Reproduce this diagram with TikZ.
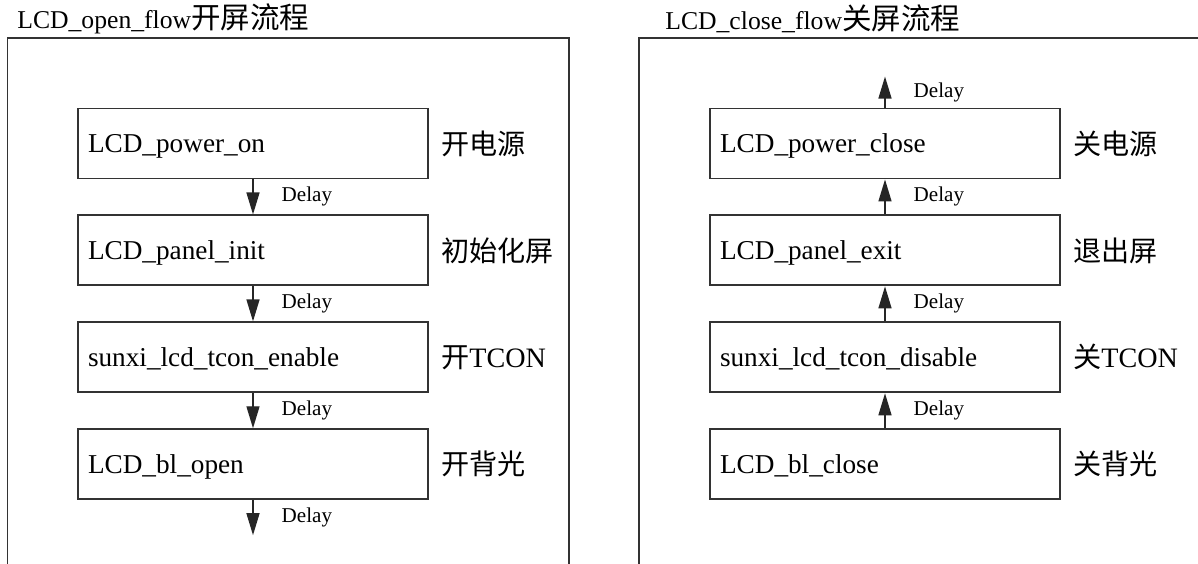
\documentclass[tikz,border=0pt]{standalone}
\usepackage{fontspec}
\setmainfont{Liberation Serif}
\newfontfamily\cjk{Noto Sans CJK SC}
\usetikzlibrary{positioning,arrows.meta}
\begin{document}
\begin{tikzpicture}[
        x=0.02cm, y=-0.02cm,
        stepn/.style={draw=black!80, line width=1.1pt, rectangle, minimum width=7cm, minimum height=1.4cm,
            text width=6.6cm, text depth=0pt, inner xsep=0.2cm, align=left, font=\fontsize{15.5pt}{18pt}\selectfont},
        sidetxt/.style={inner sep=0pt, anchor=west, font=\fontsize{16pt}{18pt}\selectfont},
        delaytxt/.style={inner sep=0pt, font=\fontsize{12pt}{14pt}\selectfont},
        titletxt/.style={inner sep=0pt, anchor=west, font=\fontsize{14.6pt}{17pt}\selectfont},
        framen/.style={draw=black!80, line width=1pt},
        flow/.style={draw=black!85, line width=0.8pt, -{Triangle[length=0.44cm, width=0.26cm]}},
        node distance=0.7cm,
    ]
    \useasboundingbox (0,0) rectangle (1198,564);
    % frames and titles
    \draw[framen] (7.5,564) |- (569,38) -- (569,564);
    \draw[framen] (639,564) |- (1198,38);
    \node[titletxt] (opentitle) at (17,19) {LCD\_open\_flow{\cjk\fontsize{16.8pt}{18pt}\selectfont 开屏流程}};
    \node[titletxt] (closetitle) at (665,19) {LCD\_close\_flow{\cjk\fontsize{16.8pt}{18pt}\selectfont 关屏流程}};

    % open flow
    \node[stepn] (pwon) at (253,143.5) {LCD\_power\_on};
    \node[stepn, below=of pwon] (pinit) {LCD\_panel\_init};
    \node[stepn, below=of pinit] (tconen) {sunxi\_lcd\_tcon\_enable};
    \node[stepn, below=of tconen] (blopen) {LCD\_bl\_open};
    \coordinate[below=0.7cm of blopen] (openend);
    \node[sidetxt, right=0.24cm of pwon] (pwonl) {\cjk 开电源};
    \node[sidetxt, right=0.24cm of pinit] (pinitl) {\cjk 初始化屏};
    \node[sidetxt, right=0.24cm of tconen] (tconenl) {{\cjk 开}\rmfamily TCON};
    \node[sidetxt, right=0.24cm of blopen] (blopenl) {\cjk 开背光};
    \draw[flow] (pwon) -- node[delaytxt, right=0.56cm] {Delay} (pinit);
    \draw[flow] (pinit) -- node[delaytxt, right=0.56cm] {Delay} (tconen);
    \draw[flow] (tconen) -- node[delaytxt, right=0.56cm] {Delay} (blopen);
    \draw[flow] (blopen) -- node[delaytxt, right=0.56cm] {Delay} (openend);

    % close flow
    \node[stepn] (pwcl) at (885,143.5) {LCD\_power\_close};
    \node[stepn, below=of pwcl] (pexit) {LCD\_panel\_exit};
    \node[stepn, below=of pexit] (tcondis) {sunxi\_lcd\_tcon\_disable};
    \node[stepn, below=of tcondis] (blclose) {LCD\_bl\_close};
    \coordinate[above=0.62cm of pwcl] (closeend);
    \node[sidetxt, right=0.24cm of pwcl] (pwcll) {\cjk 关电源};
    \node[sidetxt, right=0.24cm of pexit] (pexitl) {\cjk 退出屏};
    \node[sidetxt, right=0.24cm of tcondis] (tcondisl) {{\cjk 关}\rmfamily TCON};
    \node[sidetxt, right=0.24cm of blclose] (blclosel) {\cjk 关背光};
    \draw[flow] (blclose) -- node[delaytxt, right=0.56cm] {Delay} (tcondis);
    \draw[flow] (tcondis) -- node[delaytxt, right=0.56cm] {Delay} (pexit);
    \draw[flow] (pexit) -- node[delaytxt, right=0.56cm] {Delay} (pwcl);
    \draw[flow] (pwcl) -- node[delaytxt, right=0.56cm] {Delay} (closeend);
\end{tikzpicture}
\end{document}
